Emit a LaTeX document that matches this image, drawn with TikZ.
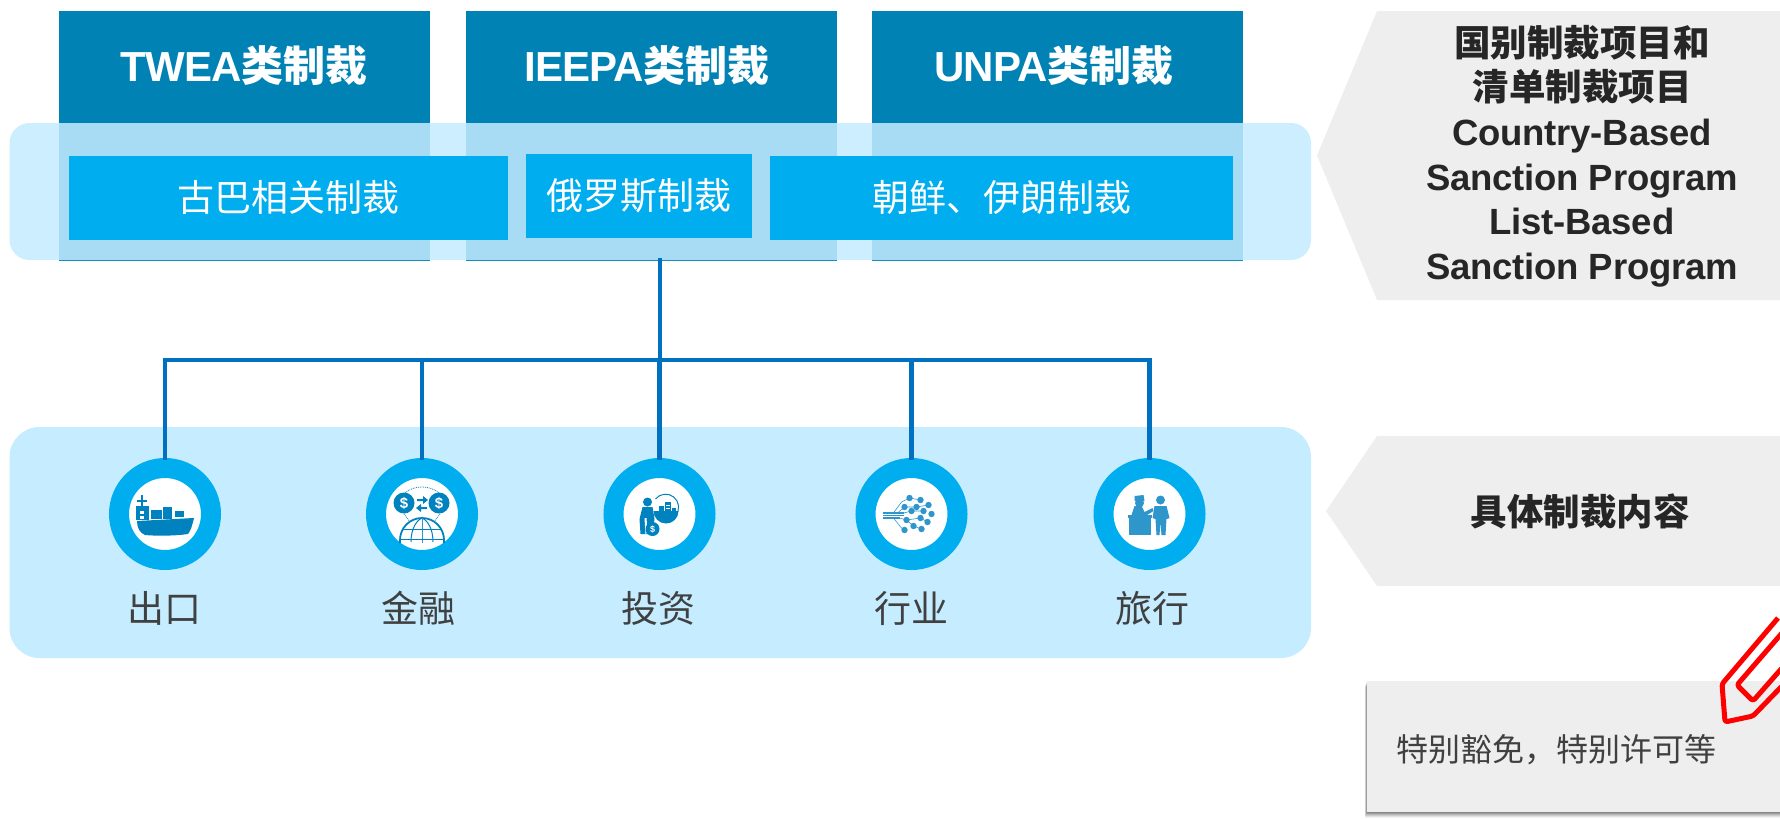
\documentclass[tikz,border=0pt]{standalone}
\usepackage{fontspec}
\setmainfont{Liberation Sans}
\newfontfamily\cjk{Noto Sans CJK SC}
\usetikzlibrary{calc}
\definecolor{topblue}{HTML}{0082B4}
\definecolor{bandblue}{HTML}{C4EBFF}
\definecolor{lowband}{HTML}{C6ECFF}
\definecolor{cyanbox}{HTML}{00AEEF}
\definecolor{wire}{HTML}{0070C0}
\definecolor{greybox}{HTML}{EEEEEE}
\definecolor{txt}{HTML}{404040}
\definecolor{darktxt}{HTML}{262626}
\definecolor{icona}{HTML}{0082BE}
\definecolor{iconb}{HTML}{2F96CC}
\tikzset{
  topbox/.style={fill=topblue,draw=none,inner sep=0pt,outer sep=0pt},
  innerbox/.style={fill=cyanbox,draw=none,inner sep=0pt,outer sep=0pt,text=white,font=\cjk\fontsize{37}{44}\selectfont},
  ring/.style={circle,draw=cyanbox,fill=white,line width=20pt,minimum size=92pt,inner sep=0pt},
  wireline/.style={draw=wire,line width=4.6pt},
  toplabel/.style={text=white,font=\fontsize{42}{50}\selectfont\bfseries\addfontfeatures{LetterSpace=-2},inner sep=0pt},
  iconlabel/.style={text=txt,font=\cjk\fontsize{37}{44}\selectfont,inner sep=0pt},
  sidelabel/.style={text=darktxt,font=\fontsize{36.5}{44.6}\selectfont\bfseries\addfontfeatures{LetterSpace=-.6},align=center,inner sep=0pt},
  clipline/.style={draw=red,line width=5pt,line join=round}
}
\begin{document}
\begin{tikzpicture}[x=1pt,y=-1pt]
\useasboundingbox (0,0) rectangle (1780,819);
% top boxes
\path[topbox] (59,11) rectangle (430,261);
\path[topbox] (466,11) rectangle (837,261);
\path[topbox] (872,11) rectangle (1243,261);
% translucent band
\fill[bandblue,opacity=.86,rounded corners=20pt] (9.5,123) rectangle (1311,260);
% labels on top boxes
\node[toplabel] (t1) at (244,66) {TWEA{\cjk\bfseries 类制裁}};
\node[toplabel] (t2) at (647,66) {IEEPA{\cjk\bfseries 类制裁}};
\node[toplabel] (t3) at (1054,66) {UNPA{\cjk\bfseries 类制裁}};
% inner boxes
\node[innerbox,minimum width=439pt,minimum height=84pt] (b1) at (288.5,198) {\raisebox{4pt}{古巴相关制裁}};
\node[innerbox,minimum width=226pt,minimum height=84pt] (b2) at (639,196) {俄罗斯制裁};
\node[innerbox,minimum width=463pt,minimum height=84pt] (b3) at (1001.5,197.5) {朝鲜、伊朗制裁};
% lower band
\fill[lowband,rounded corners=30pt] (9.5,427) rectangle (1311,658);
% rings
\node[ring] (c1) at (165,514) {};
\node[ring] (c2) at (422,514) {};
\node[ring] (c3) at (659.5,514) {};
\node[ring] (c4) at (911.5,514) {};
\node[ring] (c5) at (1149.5,514) {};
% connectors
\coordinate (src) at (660,258);
\coordinate (hub) at (660,360);
\draw[wireline] (src) -- (hub);
\draw[wireline,line join=miter] ([yshift=-2pt]c1.north) -- (c1 |- hub) -- (c5 |- hub) -- ([yshift=-2pt]c5.north);
\draw[wireline] ([yshift=-2pt]c2.north) -- (c2 |- hub);
\draw[wireline] ([yshift=-2pt]c3.north) -- (c3 |- hub);
\draw[wireline] ([yshift=-2pt]c4.north) -- (c4 |- hub);
% ship icon
\begin{scope}[shift={(c1)}]
  \fill[icona] (-28,7) -- (29,4) .. controls (27,12) and (26,16) .. (23,20) .. controls (10,22) and (-10,22) .. (-20,21) .. controls (-25,19) and (-28,14) .. (-28,7) -- cycle;
  \fill[icona] (-29,-8) rectangle (-16,6);
  \fill[white] (-25,-3) rectangle (-21,0);
  \fill[white] (-25,2) rectangle (-21,5);
  \draw[icona,line width=1.3pt] (-23,-8) -- (-23,-19) (-28,-13) -- (-18,-13);
  \fill[icona] (-14,-4) rectangle (-3,5);
  \fill[icona] (-2,-7) rectangle (7,5);
  \fill[icona] (10,-3) rectangle (19,3);
\end{scope}
% finance icon
\begin{scope}[shift={(c2)}]
  \draw[icona,line width=.8pt,densely dotted] (-17,-21) .. controls (-8,-29) and (8,-29) .. (17,-21);
  \draw[icona,line width=.8pt,densely dotted] (-18,0) -- (-12,8);
  \draw[icona,line width=.8pt,densely dotted] (18,0) -- (12,8);
  \fill[icona] (-18,-11) circle (10.5pt);
  \fill[icona] (17,-11) circle (10.5pt);
  \node[text=white,font=\fontsize{15}{15}\selectfont\bfseries,inner sep=0pt] (d1) at (-18,-11) {\$};
  \node[text=white,font=\fontsize{15}{15}\selectfont\bfseries,inner sep=0pt] (d2) at (17,-11) {\$};
  \fill[icona] (-5,-15) -- (1,-15) -- (1,-18) -- (6,-14) -- (1,-10) -- (1,-13) -- (-5,-13) -- cycle;
  \fill[icona] (5,-7) -- (-1,-7) -- (-1,-10) -- (-6,-6) -- (-1,-2) -- (-1,-5) -- (5,-5) -- cycle;
  \draw[icona,line width=1.8pt] (-22,29) -- (-22,26) arc[start angle=180,end angle=360,radius=22] -- (22,29);
  \draw[icona,line width=1pt] (-11,28) .. controls (-11,14) and (-5,6) .. (0,4) .. controls (5,6) and (11,14) .. (11,28);
  \draw[iconb,line width=1pt] (0,4) -- (0,29);
  \draw[icona,line width=1pt] (-19,15) -- (19,15) (-22,25) -- (22,25);
\end{scope}
% investment icon
\begin{scope}[shift={(c3)}]
  \draw[icona,line width=1pt] (-4,-15) arc[start angle=219,end angle=450,radius=13];
  \fill[icona] (-6,-3) -- (19,-3) arc[start angle=0,end angle=180,radius=12.5] -- cycle;
  \fill[icona] (-1,-8) rectangle (4,-2);
  \fill[icona] (5,-12) rectangle (11,-2);
  \fill[white] (6,-9) rectangle (10,-8);
  \fill[white] (6,-6) rectangle (10,-5);
  \fill[icona] (12,-6) rectangle (16,-2);
  \fill[icona] (-12,-12) circle (4.5pt);
  \fill[icona] (-17,-7) -- (-7,-7) -- (-5,5) -- (-7,20) -- (-19,20) -- (-20,5) -- cycle;
  \fill[white] (-13,4) -- (-12,18) -- (-14,20) -- (-15,4) -- cycle;
  \fill[icona] (-7,15) circle (7pt);
  \node[text=white,font=\fontsize{9}{9}\selectfont\bfseries,inner sep=0pt] (d3) at (-7,15) {\$};
\end{scope}
% industry icon
\begin{scope}[shift={(c4)}]
  \draw[iconb,line width=1.1pt] (-29,-1) -- (-8,-1) (-29,1.5) -- (-8,1.5) (-29,4) -- (-12,4);
  \draw[iconb,line width=.6pt] (-18,-1) -- (-10,-12) -- (-2,-16) (-14,-1) -- (-7,-7) (-8,-1) -- (0,-3) -- (12,-3)
     (-7,-7) -- (5,-7) -- (17,-9) (-18,4) -- (-10,14) -- (-7,16) (-12,4) -- (-5,6) -- (9,4) -- (16,8) (-5,6) -- (2,12) -- (10,15) (-2,-16) -- (9,-14);
  \foreach \p/\r in {-2/-16,9/-14,17/-9,-7/-7,5/-7,12/-3,20/0,0/-3,-5/6,9/4,16/8,2/12,10/15,-7/16}{
    \fill[iconb] (\p,\r) circle (3.2pt);
  }
\end{scope}
% travel icon
\begin{scope}[shift={(c5)}]
  \fill[iconb] (-22,1) rectangle (2,4);
  \fill[iconb] (-21,4) rectangle (1,21);
  \fill[iconb] (-15,-18) -- (-6,-19) -- (-5,-13) -- (-15,-13) -- cycle;
  \fill[iconb] (-10,-11) circle (4.5pt);
  \fill[iconb] (-18,1) -- (-15,-8) -- (-8,-8) -- (-5,-2) -- (3,-6) -- (4,-3) -- (-4,2) -- (-6,1) -- cycle;
  \fill[iconb] (11,-14) circle (4.5pt);
  \fill[iconb] (5,-8) -- (17,-8) -- (20,4) -- (17,5) -- (16,21) -- (12,21) -- (11,8) -- (10,21) -- (7,21) -- (6,5) -- (3,4) -- cycle;
\end{scope}
% icon labels
\node[iconlabel] (l1) at (164,608) {出口};
\node[iconlabel] (l2) at (418,608) {金融};
\node[iconlabel] (l3) at (658.5,608) {投资};
\node[iconlabel] (l4) at (911.5,608) {行业};
\node[iconlabel] (l5) at (1152,608) {旅行};
% side arrows
\fill[greybox] (1317,155.5) -- (1377,11) -- (1780,11) -- (1780,300) -- (1377,300) -- cycle;
\fill[greybox] (1326,511) -- (1377,436) -- (1780,436) -- (1780,586) -- (1377,586) -- cycle;
\node[sidelabel] (s1) at (1582,156) {{\cjk\bfseries 国别制裁项目和}\\{\cjk\bfseries 清单制裁项目}\\Country-Based\\Sanction Program\\List-Based\\Sanction Program};
\node[sidelabel] (s2) at (1580,511) {{\cjk\bfseries 具体制裁内容}};
% note box with soft shadow
\foreach \o/\a in {6/.05,5/.07,4/.09,3/.11,2/.13,1/.16}{
  \fill[black,opacity=\a] (1367-\o*.4,681+\o) rectangle (1780,812+\o);
}
\fill[greybox] (1367,681) rectangle (1780,812);
\node[text=txt,font=\cjk\fontsize{32}{38}\selectfont,inner sep=0pt,anchor=west] (n1) at (1396,750) {特别豁免，特别许可等};
% paper clip
\draw[clipline,rounded corners=2.5pt] (1778,618) -- (1722,684) -- (1725,722) -- (1753,716) -- (1782,686);
\draw[clipline,rounded corners=2.5pt] (1782,633) -- (1737,685) -- (1753,701) -- (1782,668);
\end{tikzpicture}
\end{document}
